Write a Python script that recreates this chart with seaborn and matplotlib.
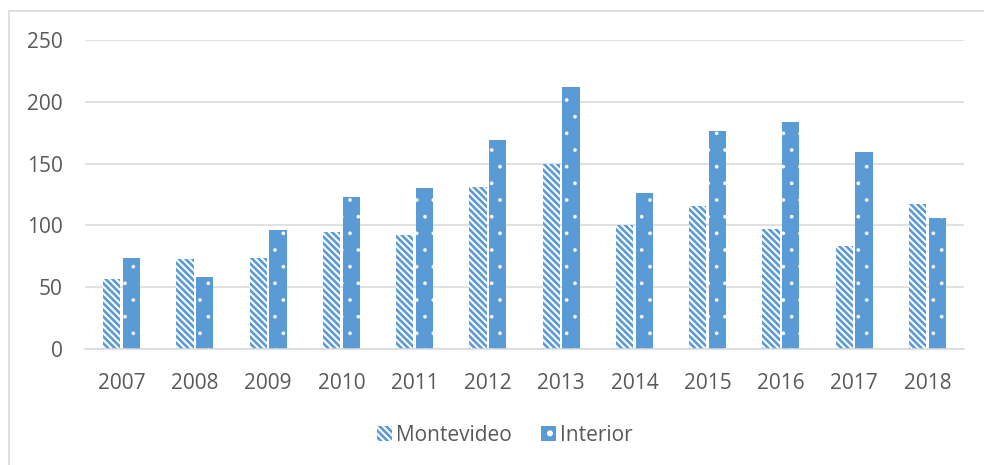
import matplotlib
matplotlib.use("Agg")
import matplotlib.pyplot as plt
import matplotlib.patches as mpatches
import seaborn as sns
import pandas as pd

# ============================================================
# Datos
# ============================================================
years = ["2007", "2008", "2009", "2010", "2011", "2012",
         "2013", "2014", "2015", "2016", "2017", "2018"]
montevideo = [57, 73, 74, 95, 92, 131, 150, 100, 116, 97, 83, 117]
interior = [74, 58, 96, 123, 130, 169, 212, 126, 176, 184, 159, 106]
series = ["Montevideo", "Interior"]

df = pd.DataFrame({
    "year": years * 2,
    "value": montevideo + interior,
    "serie": [series[0]] * len(years) + [series[1]] * len(years),
})

BLUE = "#5B9BD5"
TEXT = "#595959"
GRID = "#D9D9D9"
STRIPES = "\\" * 5
DOTS = "."
FS = 15

sns.set_theme(style="white")
plt.rcParams["font.family"] = ["Open Sans", "DejaVu Sans"]
plt.rcParams["hatch.linewidth"] = 1.9

fig = plt.figure(figsize=(9.84, 4.65), dpi=100)
ax = fig.add_axes([0.0864, 0.2495, 0.8933, 0.6645])

sns.barplot(
    data=df, x="year", y="value", hue="serie",
    palette=[BLUE, BLUE], width=0.54, gap=0.12,
    legend=False, ax=ax,
)


def style_bar(bar, stripes):
    bar.set_linewidth(0)
    if stripes:
        bar.set_facecolor("white")
        bar.set_edgecolor(BLUE)
        bar.set_hatch(STRIPES)
    else:
        bar.set_facecolor(BLUE)
        bar.set_edgecolor("white")
        bar.set_hatch(DOTS)
        if hasattr(bar, "set_hatch_linewidth"):
            bar.set_hatch_linewidth(0.2)


n = len(years)
for i, bar in enumerate(ax.patches[:2 * n]):
    style_bar(bar, i < n)

ax.set_ylim(0, 250)
ax.set_yticks([0, 50, 100, 150, 200, 250])
ax.set_xlim(-0.5, n - 0.5)
ax.yaxis.grid(True, color=GRID, linewidth=1.1)
ax.set_axisbelow(True)
for side in ["top", "right", "left"]:
    ax.spines[side].set_visible(False)
ax.spines["bottom"].set_color(GRID)
ax.spines["bottom"].set_linewidth(1.1)

ax.set_xlabel("")
ax.set_ylabel("")
ax.tick_params(axis="y", length=0, pad=16, labelsize=FS, labelcolor=TEXT)
ax.tick_params(axis="x", length=0, pad=17, labelsize=FS, labelcolor=TEXT)

h1 = mpatches.Patch()
h2 = mpatches.Patch()
style_bar(h1, True)
style_bar(h2, False)
fig.legend(
    [h1, h2], series, loc="center", bbox_to_anchor=(0.513, 0.064),
    ncol=2, frameon=False, fontsize=FS, labelcolor=TEXT,
    handlelength=0.7, handleheight=0.7, handletextpad=0.2, columnspacing=1.4,
)

# borde del área del gráfico
fig.patches.append(mpatches.Rectangle(
    (9 / 984, -0.05), 1.1, 1 - 11 / 465 + 0.05,
    transform=fig.transFigure, fill=False, edgecolor=GRID, linewidth=1.2,
))

plt.savefig("out.png", dpi=100)
